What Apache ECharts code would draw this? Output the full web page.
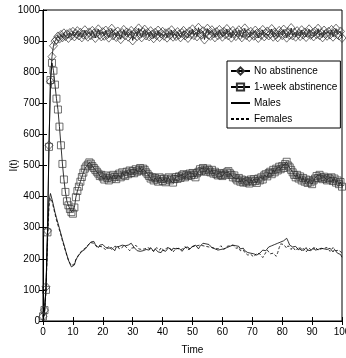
<!DOCTYPE html>
<html><head><meta charset="utf-8">
<script src="https://cdn.jsdelivr.net/npm/echarts@6/dist/echarts.min.js"></script>
<style>html,body{margin:0;padding:0;background:#fff}#c{width:346px;height:358px}</style>
</head><body><div id="c"></div>
<script>
var time = [
0,0.5,1,1.5,2,2.5,3,3.5,4,4.5,
5,5.5,6,6.5,7,7.5,8,8.5,9,9.5,
10,10.5,11,11.5,12,12.5,13,13.5,14,14.5,
15,15.5,16,16.5,17,17.5,18,18.5,19,19.5,
20,20.5,21,21.5,22,22.5,23,23.5,24,24.5,
25,25.5,26,26.5,27,27.5,28,28.5,29,29.5,
30,30.5,31,31.5,32,32.5,33,33.5,34,34.5,
35,35.5,36,36.5,37,37.5,38,38.5,39,39.5,
40,40.5,41,41.5,42,42.5,43,43.5,44,44.5,
45,45.5,46,46.5,47,47.5,48,48.5,49,49.5,
50,50.5,51,51.5,52,52.5,53,53.5,54,54.5,
55,55.5,56,56.5,57,57.5,58,58.5,59,59.5,
60,60.5,61,61.5,62,62.5,63,63.5,64,64.5,
65,65.5,66,66.5,67,67.5,68,68.5,69,69.5,
70,70.5,71,71.5,72,72.5,73,73.5,74,74.5,
75,75.5,76,76.5,77,77.5,78,78.5,79,79.5,
80,80.5,81,81.5,82,82.5,83,83.5,84,84.5,
85,85.5,86,86.5,87,87.5,88,88.5,89,89.5,
90,90.5,91,91.5,92,92.5,93,93.5,94,94.5,
95,95.5,96,96.5,97,97.5,98,98.5,99,99.5,100];

var noAbstinence = [
15,35,110,290,565,770,850,885,900,905,
915,908,920,912,925,916,922,910,926,918,
930,915,924,932,918,927,912,921,935,920,
914,928,919,933,924,910,926,938,921,915,
929,917,934,922,911,927,940,918,925,913,
931,920,906,926,936,919,928,914,924,933,
902,922,930,916,941,923,912,929,937,918,
926,915,932,921,909,927,919,934,913,924,
930,917,925,911,928,920,935,914,923,916,
929,921,912,926,933,918,924,910,931,922,
938,919,927,915,943,924,920,932,905,926,
940,921,917,935,925,912,929,919,936,923,
914,930,922,939,918,927,911,933,924,916,
928,935,920,912,926,941,919,925,913,930,
922,917,934,924,910,927,920,936,915,925,
931,918,923,939,914,928,921,912,933,926,
919,937,924,911,929,920,942,918,927,914,
932,923,916,935,921,928,913,926,938,920,
924,915,931,922,940,919,926,912,934,923,
917,930,921,936,914,927,940,922,918,931,910];

var oneWeek = [
15,35,100,285,560,775,830,805,760,715,
680,625,565,505,455,415,385,372,360,350,
345,365,398,418,432,448,463,477,490,497,
503,510,506,498,492,486,480,474,466,470,
462,455,468,460,452,465,458,470,463,456,
468,474,462,478,470,466,480,472,484,476,
482,475,488,480,485,492,483,490,486,478,
472,466,458,463,452,460,455,448,462,456,
450,458,446,455,462,452,458,445,456,463,
457,465,460,468,472,462,470,466,474,468,
476,470,462,475,480,488,482,492,486,480,
490,484,478,486,474,480,472,468,476,470,
466,474,470,478,482,475,470,462,468,458,
452,460,448,455,445,452,446,450,442,455,
448,456,450,444,458,452,462,455,468,472,
465,476,480,472,486,478,490,484,496,488,
498,492,505,512,500,494,486,478,470,462,
470,458,465,452,460,448,455,444,452,446,
440,452,458,466,460,470,462,456,464,458,
452,460,455,462,450,458,445,452,440,447,432];

var males = [
0,25,105,265,385,410,392,372,350,332,
315,298,280,262,246,228,212,196,184,174,
168,180,196,205,212,218,224,222,230,236,
242,248,254,250,256,246,240,236,244,250,
246,240,236,230,234,228,236,232,226,238,
234,240,236,244,238,242,248,244,238,250,
244,236,232,226,230,224,220,226,222,230,
234,228,236,230,224,232,228,222,226,220,
228,232,224,228,236,230,226,234,228,232,
226,234,230,224,228,236,232,238,230,234,
240,236,244,238,232,240,246,250,244,248,
242,246,240,236,242,232,236,228,234,230,
224,232,228,236,230,240,236,244,238,242,
236,240,232,228,234,226,222,220,216,218,
214,216,214,212,214,218,222,228,234,226,
232,238,234,242,236,246,240,250,244,254,
250,258,262,266,256,244,248,238,232,240,
234,228,236,232,226,230,236,228,232,226,
230,236,228,222,230,226,234,228,232,236,
230,226,234,228,222,230,226,218,224,214,205];

var females = [
0,20,95,250,370,395,385,365,345,325,
308,292,276,258,242,226,210,196,186,178,
174,184,198,206,214,220,226,230,234,238,
244,248,252,256,250,244,238,232,240,246,
238,232,228,232,240,236,230,234,240,246,
240,232,228,236,244,240,236,230,226,234,
240,236,244,238,232,236,230,226,232,228,
236,240,232,228,224,230,236,232,228,236,
232,226,230,236,230,234,228,222,228,234,
238,232,226,230,236,240,234,228,232,238,
244,240,236,242,248,244,238,242,236,240,
234,238,232,236,230,234,228,232,238,242,
236,230,234,240,236,242,248,244,238,234,
230,236,226,222,228,220,216,212,208,214,
210,206,212,218,224,216,210,204,212,220,
228,224,216,210,218,214,208,220,236,248,
254,246,240,234,242,236,230,238,232,226,
232,236,230,226,234,228,222,228,234,230,
226,232,238,234,228,224,232,238,234,240,
236,230,224,230,236,232,226,220,228,224,218];

var seriesNames = ['No abstinence', '1-week abstinence', 'Males', 'Females'];

function pairs(vals) {
  return vals.map(function (v, i) { return [time[i], v]; });
}

var FONT = "'Liberation Sans', Arial, sans-serif";
var chart = echarts.init(document.getElementById('c'), null, {renderer: 'canvas'});
var tickStyle = {show: true, inside: true, length: 4, lineStyle: {color: '#000', width: 1}};
var plain = function (v) { return String(v); };
chart.setOption({
  animation: false,
  backgroundColor: '#fff',
  textStyle: {fontFamily: FONT},
  grid: {left: 43, right: 4, top: 10, bottom: 37, containLabel: false, outerBoundsMode: 'none',
         show: true, borderColor: '#000', borderWidth: 1, backgroundColor: 'transparent'},
  legend: {
    orient: 'vertical', left: 227, top: 61,
    padding: [5, 3, 4, 3],
    itemWidth: 19, itemHeight: 9, itemGap: 6,
    borderColor: '#000', borderWidth: 1, borderRadius: 0,
    backgroundColor: '#fff',
    textStyle: {fontFamily: FONT, fontSize: 10, color: '#000', padding: [0, 0, 0, -1]},
    data: seriesNames
  },
  xAxis: [{
    type: 'value', min: 0, max: 100, interval: 10,
    name: 'Time', nameLocation: 'middle', nameGap: 24, nameMoveOverlap: false,
    nameTextStyle: {fontFamily: FONT, fontSize: 10, color: '#000'},
    axisLine: {show: true, lineStyle: {color: '#000', width: 1}},
    axisTick: tickStyle,
    axisLabel: {fontFamily: FONT, fontSize: 10, color: '#000', margin: 6, formatter: plain},
    splitLine: {show: false}
  }, {
    type: 'value', min: 0, max: 100, interval: 10, position: 'top',
    axisLine: {show: true, lineStyle: {color: '#000'}},
    axisTick: tickStyle, axisLabel: {show: false}, splitLine: {show: false}
  }],
  yAxis: [{
    type: 'value', min: 0, max: 1000, interval: 100,
    name: 'I(t)', nameLocation: 'middle', nameGap: 24, nameMoveOverlap: false,
    nameTextStyle: {fontFamily: FONT, fontSize: 10, color: '#000'},
    axisLine: {show: true, lineStyle: {color: '#000', width: 1}},
    axisTick: tickStyle,
    axisLabel: {fontFamily: FONT, fontSize: 10, color: '#000', margin: 3, formatter: plain},
    splitLine: {show: false}
  }, {
    type: 'value', min: 0, max: 1000, interval: 100, position: 'right',
    axisLine: {show: true, lineStyle: {color: '#000'}},
    axisTick: tickStyle, axisLabel: {show: false}, splitLine: {show: false}
  }],
  series: [{
    name: seriesNames[0], type: 'line', data: pairs(noAbstinence),
    symbol: 'diamond', symbolSize: [8, 9], showAllSymbol: true,
    lineStyle: {color: '#000', width: 0.8},
    itemStyle: {color: 'rgba(0,0,0,0)', borderColor: '#333', borderWidth: 0.7}
  }, {
    name: seriesNames[1], type: 'line', data: pairs(oneWeek),
    symbol: 'rect', symbolSize: 7, showAllSymbol: true,
    lineStyle: {color: '#000', width: 0.8},
    itemStyle: {color: 'rgba(0,0,0,0)', borderColor: '#333', borderWidth: 0.7}
  }, {
    name: seriesNames[2], type: 'line', data: pairs(males),
    symbol: 'none', showSymbol: false,
    lineStyle: {color: '#000', width: 0.8},
    itemStyle: {color: 'rgba(0,0,0,0)', borderWidth: 0}
  }, {
    name: seriesNames[3], type: 'line', data: pairs(females),
    symbol: 'none', showSymbol: false,
    lineStyle: {color: '#000', width: 0.8, type: [3, 2]},
    itemStyle: {color: 'rgba(0,0,0,0)', borderWidth: 0}
  }]
});
</script>
</body></html>
